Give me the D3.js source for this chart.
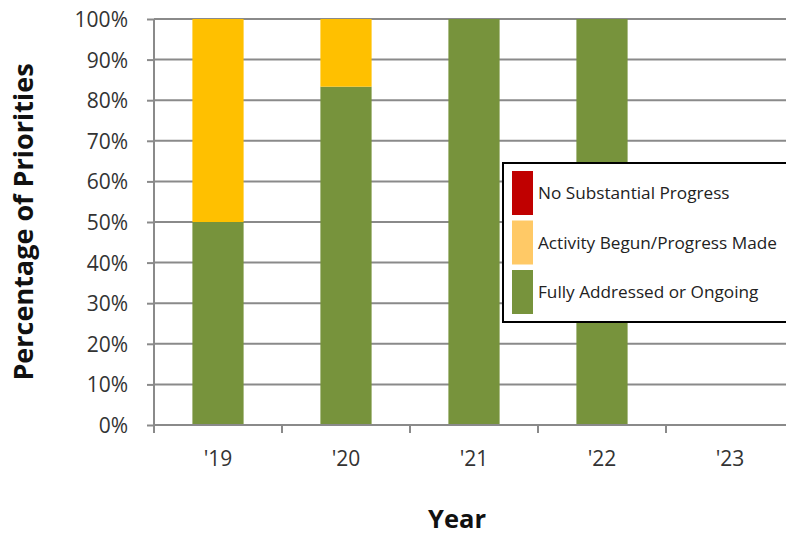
<!DOCTYPE html>
<html>
<head>
<meta charset="utf-8">
<script src="https://cdn.jsdelivr.net/npm/d3@7"></script>
<style>
  html, body { margin: 0; padding: 0; background: #fff; }
  svg { display: block; }
  text { font-family: "Open Sans", "Liberation Sans", sans-serif; }
</style>
</head>
<body>
<svg id="chart" width="786" height="535"></svg>
<script>
// Year categories and the share of priorities in each status (percent)
const years = ["'19", "'20", "'21", "'22", "'23"];
const noProgress = [0, 0, 0, 0, 0];
const activityBegun = [50, 16.67, 0, 0, 0];
const fullyAddressed = [50, 83.33, 100, 100, 0];
const yTicks = [0, 10, 20, 30, 40, 50, 60, 70, 80, 90, 100];

const seriesNames = ["No Substantial Progress", "Activity Begun/Progress Made", "Fully Addressed or Ongoing"];
const barColors = { fully: "#77933C", begun: "#FFC000", none: "#C00000" };
const legendColors = ["#C00000", "#FFC966", "#77933C"];

const svg = d3.select("#chart");
const plotLeft = 154, plotRight = 794, plotTop = 19, plotBottom = 425;
const gridColor = "#8a8a8a";

const x = d3.scaleBand().domain(years).range([plotLeft, plotRight]).paddingInner(0).paddingOuter(0);
const y = d3.scaleLinear().domain([0, 100]).range([plotBottom, plotTop]);

// horizontal gridlines
svg.append("g").selectAll("line").data(yTicks.filter(d => d > 0)).join("line")
  .attr("x1", plotLeft).attr("x2", 786)
  .attr("y1", d => y(d)).attr("y2", d => y(d))
  .attr("stroke", gridColor).attr("stroke-width", 2);

// stacked bars
const rows = years.map((yr, i) => ({ year: yr, fully: fullyAddressed[i], begun: activityBegun[i], none: noProgress[i] }));
const stack = d3.stack().keys(["fully", "begun", "none"])(rows);
const barW = x.bandwidth() * 0.4;
svg.append("g").selectAll("g").data(stack).join("g")
  .attr("fill", d => barColors[d.key])
  .selectAll("rect").data(d => d.filter(p => p[1] - p[0] > 0)).join("rect")
  .attr("x", d => x(d.data.year) + (x.bandwidth() - barW) / 2)
  .attr("width", barW)
  .attr("y", d => y(d[1]))
  .attr("height", d => y(d[0]) - y(d[1]));

// y axis
const yAxis = svg.append("g").attr("transform", `translate(${plotLeft},0)`)
  .call(d3.axisLeft(y).tickValues(yTicks).tickFormat(d => d + "%")
    .tickSizeInner(7).tickSizeOuter(0).tickPadding(19));
yAxis.select(".domain").remove();
yAxis.selectAll(".tick line").attr("stroke", gridColor).attr("stroke-width", 2);
yAxis.selectAll("text").attr("font-size", 21).attr("fill", "#333").attr("dy", "0.36em");
svg.append("line").attr("x1", plotLeft).attr("x2", plotLeft).attr("y1", plotTop).attr("y2", plotBottom + 8)
  .attr("stroke", gridColor).attr("stroke-width", 2);

// x axis
const xAxis = svg.append("g").attr("transform", `translate(0,${plotBottom})`)
  .call(d3.axisBottom(x).tickSizeInner(0).tickSizeOuter(0).tickPadding(26));
xAxis.select(".domain").remove();
xAxis.selectAll("text").attr("font-size", 21).attr("fill", "#333");
svg.append("line").attr("x1", plotLeft).attr("x2", 786).attr("y1", plotBottom).attr("y2", plotBottom)
  .attr("stroke", gridColor).attr("stroke-width", 2);
svg.append("g").selectAll("line").data(years).join("line")
  .attr("x1", d => x(d)).attr("x2", d => x(d))
  .attr("y1", plotBottom).attr("y2", plotBottom + 8)
  .attr("stroke", gridColor).attr("stroke-width", 2);

// axis titles
svg.append("text").attr("x", 457).attr("y", 528).attr("text-anchor", "middle")
  .attr("font-size", 25.5).attr("font-weight", "bold").attr("fill", "#111").text("Year");
svg.append("text").attr("transform", "translate(33,222) rotate(-90)").attr("text-anchor", "middle")
  .attr("font-size", 27).attr("font-weight", "bold").attr("fill", "#111").text("Percentage of Priorities");

// legend
const lg = svg.append("g");
lg.append("rect").attr("x", 503).attr("y", 163).attr("width", 292).attr("height", 159)
  .attr("fill", "#fff").attr("stroke", "#000").attr("stroke-width", 2);
const items = lg.selectAll("g.item").data(seriesNames).join("g").attr("class", "item")
  .attr("transform", (d, i) => `translate(512,${171 + i * 49.5})`);
items.append("rect").attr("width", 21).attr("height", 44).attr("fill", (d, i) => legendColors[i]);
items.append("text").attr("x", 26).attr("y", 22).attr("dy", "0.35em")
  .attr("font-size", 17.2).attr("fill", "#222").text(d => d);
</script>
</body>
</html>
